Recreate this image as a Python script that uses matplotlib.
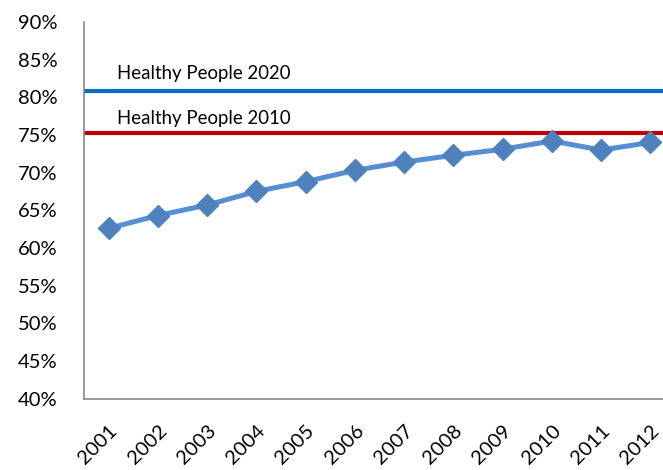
import matplotlib
matplotlib.use("Agg")
import matplotlib.pyplot as plt
from matplotlib.ticker import FuncFormatter

years = ["2001", "2002", "2003", "2004", "2005", "2006",
         "2007", "2008", "2009", "2010", "2011", "2012"]
rates = [62.6, 64.3, 65.7, 67.5, 68.8, 70.3, 71.4, 72.3, 73.1, 74.2, 73.0, 74.0]
hp2020_target = 80.8
hp2010_target = 75.3
target_labels = ["Healthy People 2020", "Healthy People 2010"]

plt.rcParams['font.family'] = ['Lato', 'DejaVu Sans']

fig = plt.figure(figsize=(6.63, 4.70), dpi=100)
ax = fig.add_axes([84 / 663, 71.5 / 470, 591 / 663, 376.5 / 470])

x = list(range(len(years)))

# target lines
ax.axhline(hp2020_target, color="#0070C0", lw=3)
ax.axhline(hp2010_target, color="#C00000", lw=3)
ax.text(0.17, hp2020_target + 2.4, target_labels[0], fontsize=13.4, va="center", ha="left")
ax.text(0.17, hp2010_target + 1.95, target_labels[1], fontsize=13.4, va="center", ha="left")

# main series
ax.plot(x, rates, color="#558ED5", lw=3.6, marker="D", markersize=11,
        markerfacecolor="#4F81BD", markeredgecolor="#4F81BD", zorder=3)

ax.set_xlim(-0.5, len(years) - 0.5)
ax.set_ylim(40, 90)
ax.set_yticks(range(40, 91, 5))
ax.yaxis.set_major_formatter(FuncFormatter(lambda v, p: f"{int(v)}%"))
ax.set_xticks(x)
ax.set_xticklabels(years, rotation=45, ha="right", rotation_mode="anchor")

ax.tick_params(axis="y", length=0, pad=19, labelsize=14.5)
ax.tick_params(axis="x", length=0, pad=17, labelsize=14.5)

for s in ["top", "right"]:
    ax.spines[s].set_visible(False)
for s in ["left", "bottom"]:
    ax.spines[s].set_color("#888888")
    ax.spines[s].set_linewidth(1.2)

fig.savefig("out.png", dpi=100)
